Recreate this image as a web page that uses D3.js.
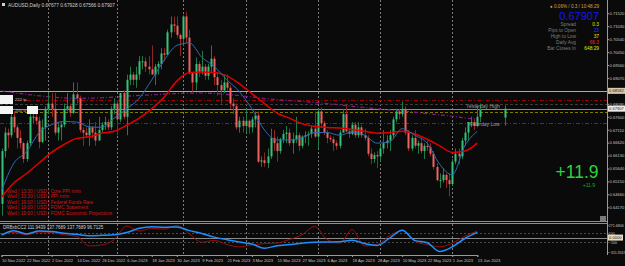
<!DOCTYPE html>
<html>
<head>
<meta charset="utf-8">
<script src="https://cdn.jsdelivr.net/npm/d3@7"></script>
<style>
  body { margin: 0; background: #0a0a0a; }
  svg { display: block; font-family: "Liberation Sans", Arial, sans-serif; }
</style>
</head>
<body>
<svg id="chart" width="625" height="266"></svg>
<script>
// ---- data (AUDUSD daily) ----
const dates = ["10 Nov 2022","11 Nov","14 Nov","15 Nov","16 Nov","17 Nov","18 Nov","21 Nov","22 Nov 2022","23 Nov","24 Nov","25 Nov","28 Nov","29 Nov","30 Nov",
  "1 Dec","2 Dec 2022","5 Dec","6 Dec","7 Dec","8 Dec","9 Dec","12 Dec","13 Dec","14 Dec 2022","15 Dec","16 Dec","19 Dec","20 Dec","21 Dec","22 Dec","23 Dec","26 Dec 2022","27 Dec","28 Dec","29 Dec","30 Dec",
  "3 Jan","4 Jan","5 Jan","6 Jan 2023","9 Jan","10 Jan","11 Jan","12 Jan","13 Jan","16 Jan","17 Jan","18 Jan 2023","19 Jan","20 Jan","23 Jan","24 Jan","25 Jan","26 Jan","27 Jan","30 Jan 2023","31 Jan",
  "1 Feb","2 Feb","3 Feb","6 Feb","7 Feb","8 Feb","9 Feb 2023","10 Feb","13 Feb","14 Feb","15 Feb","16 Feb","17 Feb","20 Feb","21 Feb 2023","22 Feb","23 Feb","24 Feb","27 Feb","28 Feb",
  "1 Mar","2 Mar","3 Mar 2023","6 Mar","7 Mar","8 Mar","9 Mar","10 Mar","13 Mar","14 Mar","15 Mar 2023","16 Mar","17 Mar","20 Mar","21 Mar","22 Mar","23 Mar","24 Mar","27 Mar 2023","28 Mar","29 Mar","30 Mar","31 Mar",
  "3 Apr","4 Apr","5 Apr","6 Apr 2023","7 Apr","10 Apr","11 Apr","12 Apr","13 Apr","14 Apr","17 Apr","18 Apr 2023","19 Apr","20 Apr","21 Apr","24 Apr","25 Apr","26 Apr","27 Apr","28 Apr 2023",
  "1 May","2 May","3 May","4 May","5 May","8 May","9 May","10 May 2023","11 May","12 May","15 May","16 May","17 May","18 May","19 May","22 May 2023","23 May","24 May","25 May","26 May","29 May","30 May","31 May",
  "1 Jun 2023","2 Jun","5 Jun","6 Jun","7 Jun","8 Jun","9 Jun","12 Jun","13 Jun 2023","14 Jun"];

const opens = [0.6430,0.6630,0.6700,0.6690,0.6760,0.6720,0.6680,0.6660,0.6600,0.6660,0.6760,0.6760,0.6745,0.6665,0.6720,
  0.6790,0.6810,0.6790,0.6700,0.6720,0.6730,0.6790,0.6800,0.6775,0.6845,0.6830,0.6710,0.6700,0.6690,0.6720,0.6700,0.6670,0.6710,0.6730,0.6740,0.6720,0.6790,
  0.6810,0.6750,0.6850,0.6760,0.6900,0.6920,0.6900,0.6920,0.6970,0.6970,0.6950,0.6940,0.6920,0.6950,0.6960,0.7000,0.6995,0.7080,0.7110,0.7105,0.7070,
  0.7055,0.7140,0.7060,0.6925,0.6890,0.6960,0.6930,0.6950,0.6915,0.6950,0.6980,0.6910,0.6880,0.6860,0.6890,0.6870,0.6810,0.6800,0.6720,0.6745,
  0.6725,0.6745,0.6720,0.6750,0.6765,0.6590,0.6595,0.6585,0.6610,0.6680,0.6660,0.6630,0.6675,0.6695,0.6700,0.6660,0.6675,0.6690,0.6650,0.6685,0.6690,0.6695,0.6715,
  0.6685,0.6780,0.6735,0.6700,0.6680,0.6675,0.6660,0.6650,0.6700,0.6770,0.6705,0.6695,0.6730,0.6690,0.6720,0.6690,0.6680,0.6620,0.6600,0.6615,
  0.6610,0.6640,0.6660,0.6670,0.6690,0.6750,0.6780,0.6770,0.6790,0.6700,0.6640,0.6680,0.6650,0.6660,0.6630,0.6650,0.6645,0.6620,0.6570,0.6520,0.6520,0.6540,0.6520,
  0.6505,0.6590,0.6620,0.6610,0.6670,0.6700,0.6740,0.6740,0.6725,0.6760];
const highs = [0.6640,0.6720,0.6715,0.6798,0.6780,0.6730,0.6710,0.6665,0.6670,0.6780,0.6785,0.6790,0.6760,0.6750,0.6800,
  0.6850,0.6850,0.6850,0.6740,0.6740,0.6810,0.6850,0.6810,0.6890,0.6890,0.6840,0.6720,0.6720,0.6750,0.6725,0.6740,0.6760,0.6740,0.6760,0.6750,0.6800,0.6830,
  0.6820,0.6850,0.6860,0.6920,0.6950,0.6930,0.6950,0.6990,0.6990,0.6985,0.6990,0.7030,0.6960,0.6970,0.7020,0.7020,0.7090,0.7140,0.7140,0.7140,0.7075,
  0.7145,0.7158,0.7090,0.6930,0.6985,0.6970,0.7010,0.6960,0.6960,0.7030,0.6990,0.6930,0.6900,0.6920,0.6920,0.6880,0.6830,0.6810,0.6760,0.6760,
  0.6790,0.6750,0.6760,0.6780,0.6780,0.6610,0.6625,0.6640,0.6715,0.6710,0.6685,0.6680,0.6710,0.6725,0.6715,0.6700,0.6760,0.6700,0.6690,0.6705,0.6705,0.6725,0.6780,
  0.6790,0.6795,0.6745,0.6710,0.6690,0.6685,0.6670,0.6710,0.6790,0.6805,0.6715,0.6740,0.6740,0.6740,0.6730,0.6715,0.6690,0.6640,0.6625,0.6630,
  0.6650,0.6710,0.6690,0.6710,0.6760,0.6790,0.6790,0.6818,0.6800,0.6710,0.6690,0.6710,0.6670,0.6680,0.6660,0.6670,0.6660,0.6630,0.6585,0.6545,0.6565,0.6545,0.6545,
  0.6600,0.6640,0.6640,0.6680,0.6720,0.6740,0.6760,0.6750,0.6800,0.6810];
const lows = [0.6385,0.6605,0.6640,0.6680,0.6700,0.6640,0.6640,0.6585,0.6590,0.6650,0.6735,0.6730,0.6640,0.6660,0.6670,
  0.6775,0.6760,0.6690,0.6670,0.6670,0.6720,0.6780,0.6760,0.6770,0.6810,0.6700,0.6650,0.6680,0.6650,0.6680,0.6650,0.6670,0.6700,0.6710,0.6710,0.6710,0.6770,
  0.6690,0.6740,0.6750,0.6690,0.6880,0.6880,0.6870,0.6900,0.6940,0.6930,0.6920,0.6920,0.6880,0.6920,0.6940,0.6970,0.6995,0.7060,0.7080,0.7060,0.6990,
  0.7030,0.7040,0.6920,0.6855,0.6860,0.6910,0.6920,0.6900,0.6900,0.6930,0.6880,0.6840,0.6810,0.6850,0.6860,0.6790,0.6770,0.6710,0.6700,0.6700,
  0.6700,0.6695,0.6700,0.6720,0.6585,0.6570,0.6570,0.6565,0.6600,0.6630,0.6590,0.6620,0.6660,0.6660,0.6650,0.6620,0.6660,0.6630,0.6640,0.6660,0.6650,0.6680,0.6680,
  0.6640,0.6720,0.6690,0.6660,0.6665,0.6630,0.6635,0.6640,0.6700,0.6700,0.6680,0.6690,0.6680,0.6680,0.6680,0.6670,0.6610,0.6580,0.6585,0.6565,
  0.6590,0.6620,0.6640,0.6630,0.6680,0.6740,0.6750,0.6760,0.6690,0.6630,0.6630,0.6640,0.6620,0.6620,0.6600,0.6630,0.6610,0.6560,0.6515,0.6490,0.6510,0.6490,0.6458,
  0.6500,0.6580,0.6580,0.6600,0.6650,0.6670,0.6720,0.6710,0.6720,0.6740];
const closes = [0.6630,0.6700,0.6690,0.6760,0.6720,0.6680,0.6660,0.6600,0.6660,0.6760,0.6760,0.6745,0.6665,0.6720,0.6790,
  0.6810,0.6790,0.6700,0.6720,0.6730,0.6790,0.6800,0.6775,0.6845,0.6830,0.6710,0.6700,0.6690,0.6720,0.6700,0.6670,0.6710,0.6730,0.6740,0.6720,0.6790,0.6810,
  0.6750,0.6850,0.6760,0.6900,0.6920,0.6900,0.6920,0.6970,0.6970,0.6950,0.6940,0.6920,0.6950,0.6960,0.7000,0.6995,0.7080,0.7110,0.7105,0.7070,0.7055,
  0.7140,0.7060,0.6925,0.6890,0.6960,0.6930,0.6950,0.6915,0.6950,0.6980,0.6910,0.6880,0.6860,0.6890,0.6870,0.6810,0.6800,0.6720,0.6745,0.6725,
  0.6745,0.6720,0.6750,0.6765,0.6590,0.6595,0.6585,0.6610,0.6680,0.6660,0.6630,0.6675,0.6695,0.6700,0.6660,0.6675,0.6690,0.6650,0.6685,0.6690,0.6695,0.6715,0.6685,
  0.6780,0.6735,0.6700,0.6680,0.6675,0.6660,0.6650,0.6700,0.6770,0.6705,0.6695,0.6730,0.6690,0.6720,0.6690,0.6680,0.6620,0.6600,0.6615,0.6610,
  0.6640,0.6660,0.6670,0.6690,0.6750,0.6780,0.6770,0.6790,0.6700,0.6640,0.6680,0.6650,0.6660,0.6630,0.6650,0.6645,0.6620,0.6570,0.6520,0.6520,0.6540,0.6520,0.6505,
  0.6590,0.6620,0.6610,0.6670,0.6700,0.6740,0.6740,0.6725,0.6760,0.6785];

// separate live candle drawn out on the right
const liveBar = { i: 161, o: 0.6757, h: 0.6803, l: 0.6726, c: 0.67907 };

// moving averages, read every 4 bars
const maIdx = d3.range(0, 153, 4);
const blueMA = [0.6480,0.6585,0.6627,0.6700,0.6730,0.6742,0.6740,0.6722,0.6720,0.6755,0.6790,0.6830,0.6900,0.6975,0.7030,0.7040,0.6985,0.6950,0.6900,0.6855,
  0.6790,0.6710,0.6672,0.6672,0.6680,0.6700,0.6700,0.6690,0.6702,0.6690,0.6660,0.6665,0.6715,0.6690,0.6660,0.6580,0.6540,0.6650,0.6705];
const redMA = [0.6455,0.6510,0.6545,0.6585,0.6625,0.6655,0.6678,0.6684,0.6698,0.6705,0.6728,0.6755,0.6790,0.6835,0.6895,0.6928,0.6930,0.6928,0.6915,0.6885,
  0.6848,0.6810,0.6774,0.6755,0.6734,0.6724,0.6719,0.6717,0.6712,0.6705,0.6698,0.6700,0.6705,0.6695,0.6675,0.6650,0.6625,0.6630,0.6660];
const purpleIdx = d3.range(0, 153, 8).concat([152]);
const purpleMA = [0.6858,0.6845,0.6835,0.6830,0.6832,0.6838,0.6843,0.6848,0.6850,0.6845,0.6835,0.6825,0.6818,0.6810,0.6800,0.6790,0.6782,0.6772,0.6762,0.6752];

// horizontal levels
const levels = [
  { p: 0.68582, color: "#b3a896", dash: null },
  { p: 0.68235, color: "#a00000", dash: "4,2,1,2" },
  { p: 0.68072, color: "#3c3c3c", dash: "3,2" },
  { p: 0.67907, color: "#8c8c8c", dash: null },
  { p: 0.67780, color: "#7a7a00", dash: "3,2" },
  { p: 0.67375, color: "#3c3c3c", dash: "4,2,1,2" }
];

// month separators (bar index)
const separators = [15, 37, 58, 78, 101, 121, 144];

// price axis ticks
const priceTicks = d3.range(16).map(k => 0.7152 - k * 0.0049);

// sub window (DRBxbCC2) every 4 bars
const ccBlue = [56,150,80,140,130,95,70,42,49,60,110,200,235,222,230,150,90,10,-45,-95,-140,-230,-175,-150,-120,-100,-95,-90,-55,-130,-170,-10,160,-60,-110,-300,-200,-20,112];
const ccRed = [70,110,60,120,110,60,30,-180,-160,-40,250,140,200,180,260,80,-100,-60,-150,-200,-160,-130,-120,-40,60,240,-40,-120,170,-180,-150,40,150,-80,-150,-200,-120,30,138];
const subTicks = [271.6806, 100, -100, -311.3567];

const newsLines = ["Wed | 13:30 | USD | Core PPI m/m","Wed | 13:30 | USD | PPI m/m","Wed | 19:00 | USD | Federal Funds Rate","Wed | 19:00 | USD | FOMC Statement","Wed | 19:00 | USD | FOMC Economic Projections"];

const panelLabels = ["Spread","Pips to Open","High to Low","Daily Avg","Bar Closes In"];
const panelValues = ["0.3","23","37","66.3","648:29"];
const panelColors = ["#e6e600","#2b2bff","#e6e600","#ff2020","#e6e600"];

// ---- drawing ----
const svg = d3.select("#chart");
const W = 625, H = 266;
const axisX = 607;
const axisFont = 4.1;

svg.append("rect").attr("width", W).attr("height", H).attr("fill", "#0a0a0a");

const x = d3.scaleLinear().domain([0, 152]).range([1.5, 477.3]);
const y = d3.scaleLinear().domain([0.64170, 0.71520]).range([207.3, 13.3]);
const ySub = d3.scaleLinear().domain([-311.3567, 271.6806]).range([252, 225]);

// separators
svg.append("g").selectAll("line").data(separators).enter().append("line")
  .attr("x1", d => Math.round(x(d)) + 0.5).attr("x2", d => Math.round(x(d)) + 0.5)
  .attr("y1", 0).attr("y2", 255)
  .attr("stroke", "#7a7a7a").attr("stroke-dasharray", "2,2").attr("stroke-width", 1);

// horizontal levels
svg.append("g").selectAll("line").data(levels).enter().append("line")
  .attr("x1", 0).attr("x2", axisX)
  .attr("y1", d => Math.round(y(d.p)) + 0.5).attr("y2", d => Math.round(y(d.p)) + 0.5)
  .attr("stroke", d => d.color).attr("stroke-dasharray", d => d.dash);

// purple long MA
svg.append("path")
  .datum(purpleIdx.map((d, k) => [d, purpleMA[k]]))
  .attr("fill", "none").attr("stroke", "#8a1a8a").attr("stroke-width", 1.2)
  .attr("stroke-dasharray", "4,2,1,2")
  .attr("d", d3.line().x(d => x(d[0])).y(d => y(d[1])).curve(d3.curveMonotoneX));

// candles
const bars = d3.range(closes.length).map(i => ({ i, o: opens[i], h: highs[i], l: lows[i], c: closes[i] }));
bars.push(liveBar);
const candle = svg.append("g").selectAll("g").data(bars).enter().append("g");
candle.append("line")
  .attr("x1", d => Math.round(x(d.i)) + 0.5).attr("x2", d => Math.round(x(d.i)) + 0.5)
  .attr("y1", d => y(d.h)).attr("y2", d => y(d.l))
  .attr("stroke", d => d.c >= d.o ? "#1f7a45" : "#8e2424");
candle.append("rect")
  .attr("x", d => Math.round(x(d.i)) - 0.5)
  .attr("width", 2)
  .attr("y", d => y(Math.max(d.o, d.c)))
  .attr("height", d => Math.max(1, Math.abs(y(d.o) - y(d.c))))
  .attr("fill", d => d.c >= d.o ? "#33c47a" : "#f0625e");

// MA lines
const maLine = d3.line().x(d => x(d[0])).y(d => y(d[1])).curve(d3.curveMonotoneX);
svg.append("path").datum(maIdx.map((d, k) => [d, redMA[k]]))
  .attr("fill", "none").attr("stroke", "#e10000").attr("stroke-width", 1.5).attr("d", maLine);
svg.append("path").datum(maIdx.map((d, k) => [d, blueMA[k]]))
  .attr("fill", "none").attr("stroke", "#2b6cb4").attr("stroke-width", 1).attr("d", maLine);

// yesterday labels
svg.append("text").attr("x", 466).attr("y", 108).attr("font-size", 5).attr("fill", "#9a9a9a").text("Yesterday High");
svg.append("text").attr("x", 467).attr("y", 126).attr("font-size", 5).attr("fill", "#9a9a9a").text("Yesterday Low");

// left trade boxes
const leftBoxes = [{ x: 0, y: 95, w: 13, h: 9, t: "222 tp", ty: 100.5 }, { x: 0, y: 106, w: 13, h: 8, t: "200 sl", ty: 111.5 }];
leftBoxes.forEach(b => {
  svg.append("rect").attr("x", b.x).attr("y", b.y).attr("width", b.w).attr("height", b.h).attr("fill", "#f4f4f4");
  svg.append("text").attr("x", 15).attr("y", b.ty).attr("font-size", 4.2).attr("fill", "#bdbdbd").text(b.t);
});
svg.append("rect").attr("x", 27).attr("y", 106).attr("width", 11).attr("height", 8).attr("fill", "#f4f4f4");

// news
svg.append("g").selectAll("text").data(newsLines).enter().append("text")
  .attr("x", 7).attr("y", (d, k) => 192.5 + k * 5.6)
  .attr("font-size", 4.8).attr("fill", "#d81414").text(d => d);

// title
svg.append("rect").attr("x", 2).attr("y", 3).attr("width", 3).attr("height", 3).attr("fill", "#cfcfcf");
svg.append("text").attr("x", 8).attr("y", 6.8).attr("font-size", 4.8).attr("fill", "#cfcfcf")
  .text("AUDUSD,Daily  0.67677 0.67928 0.67566 0.67907");

// info panel
svg.append("text").attr("x", 599).attr("y", 7.5).attr("text-anchor", "end").attr("font-size", 4.6).attr("fill", "#d9a441")
  .text("● 0.06% / 0.3 / 10:48:29");
svg.append("text").attr("x", 599).attr("y", 20.3).attr("text-anchor", "end").attr("font-size", 11).attr("fill", "#1414ff")
  .text("0.67907");
panelLabels.forEach((t, k) => {
  svg.append("text").attr("x", 576).attr("y", 26.3 + k * 6).attr("text-anchor", "end").attr("font-size", 4.8).attr("fill", "#7c7c7c").text(t);
  svg.append("text").attr("x", 599).attr("y", 26.3 + k * 6).attr("text-anchor", "end").attr("font-size", 4.8).attr("fill", panelColors[k]).text(panelValues[k]);
});

// pips counter
svg.append("text").attr("x", 598.5).attr("y", 178.3).attr("text-anchor", "end").attr("font-size", 17.5).attr("fill", "#2fd23a").text("+11.9");
svg.append("text").attr("x", 595).attr("y", 187.3).attr("text-anchor", "end").attr("font-size", 5).attr("fill", "#22a82a").text("+11.9");

// window borders
svg.append("line").attr("x1", 0).attr("x2", axisX).attr("y1", 221.5).attr("y2", 221.5).attr("stroke", "#8e8e8e");
svg.append("line").attr("x1", 0).attr("x2", axisX).attr("y1", 223.5).attr("y2", 223.5).attr("stroke", "#8e8e8e");
svg.append("rect").attr("x", 600).attr("y", 216).attr("width", 6).attr("height", 5).attr("fill", "#7a7a7a");

// price axis
const pAxis = svg.append("g").attr("transform", `translate(${axisX},0)`)
  .call(d3.axisRight(y).tickValues(priceTicks).tickFormat(d3.format(".5f")).tickSize(2).tickPadding(0.5));
pAxis.select(".domain").remove();
pAxis.selectAll("line").attr("stroke", "#a0a0a0");
pAxis.selectAll("text").attr("fill", "#c4c4c4").attr("font-size", axisFont).attr("font-family", "Liberation Sans, Arial");
svg.append("line").attr("x1", axisX + 0.5).attr("x2", axisX + 0.5).attr("y1", 0).attr("y2", 255).attr("stroke", "#9a9a9a");

// price boxes on the axis
const priceBoxes = [{ p: 0.68582, bg: "#d9c9b0" }, { p: 0.67907, bg: "#ececec" }];
priceBoxes.forEach(b => {
  svg.append("rect").attr("x", axisX + 1).attr("y", y(b.p) - 3).attr("width", 17).attr("height", 6).attr("fill", b.bg);
  svg.append("text").attr("x", axisX + 2).attr("y", y(b.p) + 1.5).attr("font-size", axisFont).attr("fill", "#222").text(b.p.toFixed(5));
});

// sub window
svg.append("line").attr("x1", 0).attr("x2", axisX).attr("y1", Math.round(ySub(0)) + 0.5).attr("y2", Math.round(ySub(0)) + 0.5).attr("stroke", "#8a8a8a");
[100, -100].forEach(v => svg.append("line").attr("x1", 0).attr("x2", axisX)
  .attr("y1", Math.round(ySub(v)) + 0.5).attr("y2", Math.round(ySub(v)) + 0.5)
  .attr("stroke", "#4a4a4a").attr("stroke-dasharray", "2,2"));
const subLine = d3.line().x(d => x(d[0])).y(d => ySub(d[1])).curve(d3.curveMonotoneX);
svg.append("path").datum(maIdx.map((d, k) => [d, ccRed[k]]))
  .attr("fill", "none").attr("stroke", "#9c0a0a").attr("stroke-width", 1).attr("d", subLine);
svg.append("path").datum(maIdx.map((d, k) => [d, ccBlue[k]]))
  .attr("fill", "none").attr("stroke", "#1e8fff").attr("stroke-width", 1.5).attr("d", subLine);
svg.append("text").attr("x", 3).attr("y", 229).attr("font-size", 4.5).attr("fill", "#d0d0d0")
  .text("DRBxbCC2 111.9439 137.7689 137.7689 96.7125");

const sAxis = svg.append("g").attr("transform", `translate(${axisX},0)`)
  .call(d3.axisRight(ySub).tickValues(subTicks).tickFormat(d => d3.format(".4~f")(d)).tickSize(1.5).tickPadding(0.3));
sAxis.select(".domain").remove();
sAxis.selectAll("line").attr("stroke", "#a0a0a0");
sAxis.selectAll("text").attr("fill", "#c4c4c4").attr("font-size", 3.6);
svg.append("rect").attr("x", axisX + 1).attr("y", ySub(0) - 3).attr("width", 15).attr("height", 6).attr("fill", "#e8dcc4");
svg.append("text").attr("x", axisX + 2).attr("y", ySub(0) + 1.5).attr("font-size", axisFont).attr("fill", "#222").text("0.0000");

// time axis
const timeTicks = d3.range(0, 153, 8);
const tAxis = svg.append("g").attr("transform", "translate(0,255)")
  .call(d3.axisBottom(x).tickValues(timeTicks).tickFormat(i => dates[i]).tickSize(2).tickPadding(1));
tAxis.select(".domain").attr("stroke", "#9a9a9a");
tAxis.selectAll("line").attr("stroke", "#a0a0a0");
tAxis.selectAll("text").attr("text-anchor", "start").attr("fill", "#c4c4c4").attr("font-size", 4.1).attr("dy", "0.9em");
</script>
</body>
</html>
